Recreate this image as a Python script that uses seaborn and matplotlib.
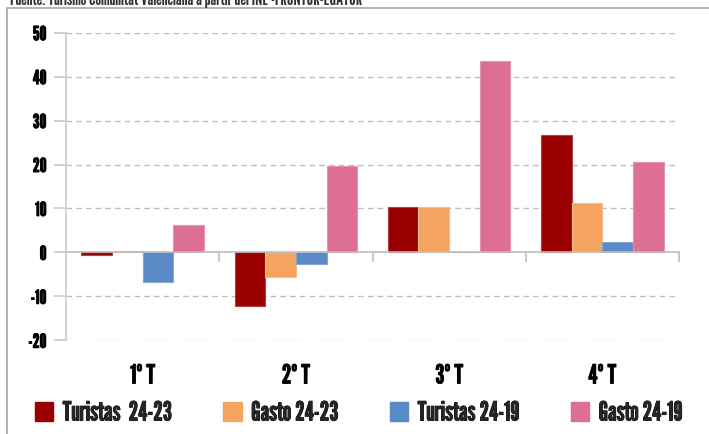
import matplotlib
matplotlib.use("Agg")
import matplotlib.pyplot as plt
from matplotlib.lines import Line2D
from matplotlib.patches import Patch
import matplotlib.transforms as mtransforms
import matplotlib.colors as mcolors
import matplotlib.patheffects as pe
import seaborn as sns
import pandas as pd

# ---- data ----
trimestres = ["1º T", "2º T", "3º T", "4º T"]
series = ["Turistas  24-23", "Gasto 24-23", "Turistas 24-19", "Gasto 24-19"]
turistas_24_23 = [-0.7, -12.2, 10.4, 26.7]
gasto_24_23 = [0.25, -5.5, 10.3, 11.2]
turistas_24_19 = [-6.7, -2.7, 0.0, 2.3]
gasto_24_19 = [6.2, 19.6, 43.6, 20.6]
colores = ["#9B0000", "#F4A460", "#5B8AC7", "#DD6F92"]
yticks = [-20, -10, 0, 10, 20, 30, 40, 50]
fuente = "Fuente: Turismo Comunitat Valenciana a partir del INE -FRONTUR-EGATUR"

valores = [turistas_24_23, gasto_24_23, turistas_24_19, gasto_24_19]
rows = []
for s, vals in zip(series, valores):
    for t, v in zip(trimestres, vals):
        rows.append({"trimestre": t, "serie": s, "valor": v})
df = pd.DataFrame(rows)

sns.set_theme(style="white")
FONT = ["League Gothic", "DejaVu Sans"]
plt.rcParams["font.family"] = FONT
bold = [pe.withStroke(linewidth=0.6, foreground="black")]

W, H = 709, 434
fig = plt.figure(figsize=(W / 100, H / 100), dpi=100)
left, right = 66 / W, 679 / W
top, bottom = 1 - 32.7 / H, 1 - 340.3 / H
ax = fig.add_axes([left, bottom, right - left, top - bottom])

sns.barplot(data=df, x="trimestre", y="valor", hue="serie", hue_order=series,
            order=trimestres, palette=colores, width=0.8, ax=ax,
            errorbar=None, legend=False, saturation=1, linewidth=0.8)

# lighter edge on bars
for bar in ax.patches:
    fc = mcolors.to_rgb(bar.get_facecolor())
    ec = tuple(c + (1 - c) * 0.25 for c in fc)
    bar.set_edgecolor(ec)

ax.set_ylim(-20, 50)
ax.set_xlim(-0.5, 3.5)
ax.set_yticks(yticks)
ax.set_yticklabels([str(v) for v in yticks], fontsize=14, color="black")
for lab in ax.get_yticklabels():
    lab.set_path_effects(bold)
ax.tick_params(axis="y", length=9, width=1.2, color="#c8c8c8", pad=5, left=True)
ax.set_xlabel("")
ax.set_ylabel("")

# grid lines
for v in yticks:
    if v == 0:
        continue
    ax.axhline(v, color="#bdbdbd", lw=1.0, ls=(0, (4, 3)), zorder=0)

# spines
for s in ["top", "right"]:
    ax.spines[s].set_visible(False)
ax.spines["left"].set_color("#d4d4d4")
ax.spines["left"].set_linewidth(1.5)
ax.spines["bottom"].set_position(("data", 0))
ax.spines["bottom"].set_color("#bdbdbd")
ax.spines["bottom"].set_linewidth(1.2)
ax.spines["bottom"].set_zorder(5)

# boundary ticks on zero line
ax.set_xticks(range(len(trimestres)))
ax.set_xticklabels([])
ax.tick_params(axis="x", which="major", length=0)
ax.set_xticks([-0.5, 0.5, 1.5, 2.5, 3.5], minor=True)
ax.tick_params(axis="x", which="minor", length=7, width=1.2, color="#bdbdbd",
               direction="out", bottom=True)

# category labels
trans = mtransforms.blended_transform_factory(ax.transData, ax.transAxes)
for i, t in enumerate(trimestres):
    ax.text(i, (340.3 - 376) / (340.3 - 32.7), t, transform=trans, ha="center",
            va="center", fontsize=19, color="black", path_effects=bold)

# legend
handles = [Patch(facecolor=c, edgecolor=c) for c in colores]
leg = fig.legend(handles, series, loc="center", bbox_to_anchor=(0.506, 1 - 413 / H), ncol=4,
                 frameon=False, fontsize=19, handlelength=0.7, handleheight=0.7,
                 handletextpad=0.35, columnspacing=1.95, borderaxespad=0)
for t in leg.get_texts():
    t.set_path_effects(bold)

# frame lines
fig.add_artist(Line2D([7 / W, 7 / W], [0, 1 - 8 / H], transform=fig.transFigure,
                      color="#a6a6a6", lw=1.2))
fig.add_artist(Line2D([7 / W, 1], [1 - 8 / H, 1 - 8 / H], transform=fig.transFigure,
                      color="#a6a6a6", lw=1.2))

# source text (cut off at top, as in the reference)
fig.text(10 / W, 1 - 5 / H, fuente, ha="left", va="baseline", fontsize=13, color="#333333")

fig.savefig("out.png", dpi=100)
